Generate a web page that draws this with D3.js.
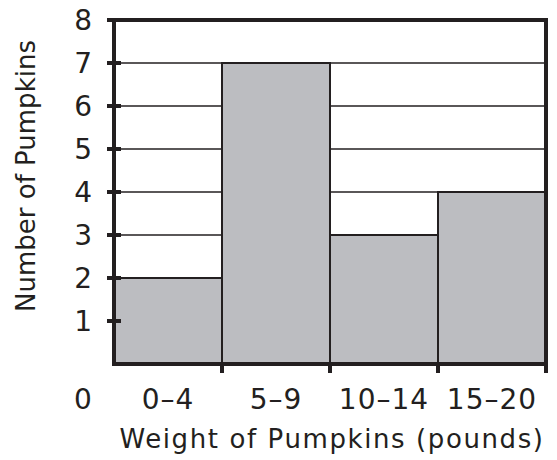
<!DOCTYPE html>
<html>
<head>
<meta charset="utf-8">
<script src="https://cdn.jsdelivr.net/npm/d3@7"></script>
<style>
  body { margin: 0; background: #fff; }
  text { font-family: "DejaVu Sans", Verdana, sans-serif; fill: #231f20; }
</style>
</head>
<body>
<svg id="chart"></svg>
<script>
const categories = ['0\u20134', '5\u20139', '10\u201314', '15\u201320'];
const counts = [2, 7, 3, 4];
const yTicks = [1, 2, 3, 4, 5, 6, 7, 8];

const width = 557;
const height = 460;
const margin = { top: 20, right: 11, bottom: 96, left: 114 };
const ink = '#231f20';

const svg = d3.select('#chart')
  .attr('width', width)
  .attr('height', height);

const x = d3.scaleBand()
  .domain(categories)
  .range([margin.left, width - margin.right])
  .padding(0);

const y = d3.scaleLinear()
  .domain([0, 8])
  .range([height - margin.bottom, margin.top]);

// grid lines behind the bars
svg.append('g')
  .selectAll('line')
  .data(yTicks.slice(0, -1))
  .enter()
  .append('line')
  .attr('x1', margin.left)
  .attr('x2', width - margin.right)
  .attr('y1', d => y(d))
  .attr('y2', d => y(d))
  .attr('stroke', ink)
  .attr('stroke-width', 1.5);

// bars
svg.append('g')
  .selectAll('rect')
  .data(counts)
  .enter()
  .append('rect')
  .attr('x', (d, i) => x(categories[i]))
  .attr('y', d => y(d))
  .attr('width', x.bandwidth())
  .attr('height', d => y(0) - y(d))
  .attr('fill', '#bcbdc1')
  .attr('stroke', ink)
  .attr('stroke-width', 2);

// frame
svg.append('rect')
  .attr('x', margin.left)
  .attr('y', y(8))
  .attr('width', width - margin.right - margin.left)
  .attr('height', y(0) - y(8))
  .attr('fill', 'none')
  .attr('stroke', ink)
  .attr('stroke-width', 4);

// y ticks
svg.append('g')
  .selectAll('line')
  .data(yTicks)
  .enter()
  .append('line')
  .attr('x1', margin.left - 7)
  .attr('x2', margin.left + 7)
  .attr('y1', d => y(d))
  .attr('y2', d => y(d))
  .attr('stroke', ink)
  .attr('stroke-width', 4);

// x ticks at bar boundaries
svg.append('g')
  .selectAll('line')
  .data(categories)
  .enter()
  .append('line')
  .attr('x1', d => x(d) + x.bandwidth())
  .attr('x2', d => x(d) + x.bandwidth())
  .attr('y1', y(0) - 2)
  .attr('y2', y(0) + 9)
  .attr('stroke', ink)
  .attr('stroke-width', 4);

// y tick labels
svg.append('g')
  .selectAll('text')
  .data(yTicks)
  .enter()
  .append('text')
  .text(d => d)
  .attr('x', 92)
  .attr('y', d => y(d))
  .attr('dy', '0.36em')
  .attr('text-anchor', 'end')
  .style('font-size', '28px');

// x labels
svg.append('text')
  .text('0')
  .attr('x', 83)
  .attr('y', 409)
  .attr('text-anchor', 'middle')
  .style('font-size', '28px');

svg.append('g')
  .selectAll('text')
  .data(categories)
  .enter()
  .append('text')
  .text(d => d)
  .attr('x', d => x(d) + x.bandwidth() / 2)
  .attr('y', 409)
  .attr('text-anchor', 'middle')
  .style('font-size', '28px')
  .style('letter-spacing', '1px');

// axis titles
svg.append('text')
  .text('Weight of Pumpkins (pounds)')
  .attr('x', 332)
  .attr('y', 448)
  .attr('text-anchor', 'middle')
  .style('font-size', '26px')
  .style('letter-spacing', '1.6px');

svg.append('text')
  .text('Number of Pumpkins')
  .attr('transform', `translate(35, 176) rotate(-90)`)
  .attr('text-anchor', 'middle')
  .style('font-size', '26px');
</script>
</body>
</html>
